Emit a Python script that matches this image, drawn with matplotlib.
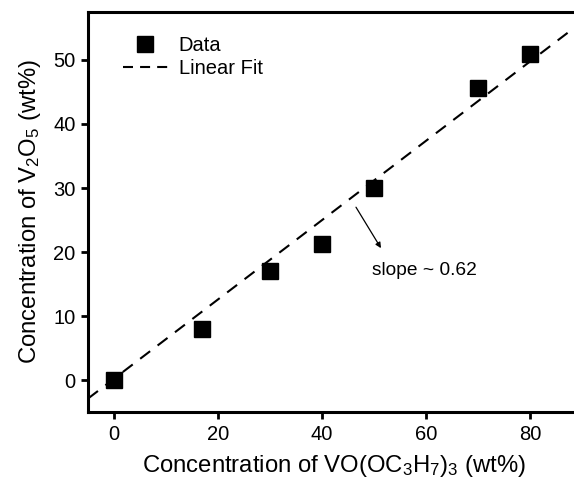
"""Concentration of V2O5 vs. VO(OC3H7)3 with a linear fit."""
import matplotlib
matplotlib.use("Agg")
import matplotlib.pyplot as plt
from matplotlib.lines import Line2D
import numpy as np

# data
precursor_wt = [0, 17, 30, 40, 50, 70, 80]
v2o5_wt = [0.0, 8.0, 17.1, 21.2, 30.0, 45.7, 51.0]
fit_slope = 0.62
fit_intercept = 0.2
x_ticks = [0, 20, 40, 60, 80]
y_ticks = [0, 10, 20, 30, 40, 50]

plt.rcParams["font.family"] = ["Liberation Sans", "DejaVu Sans"]
plt.rcParams["mathtext.fontset"] = "custom"
plt.rcParams["mathtext.rm"] = "Liberation Sans"
plt.rcParams["mathtext.it"] = "Liberation Sans:italic"


def main():
    fig = plt.figure(figsize=(5.74, 4.83), dpi=100)
    ax = fig.add_axes([88 / 574, 71 / 483, 1 - 88 / 574 + 0.01, 400 / 483])

    xlim = (-5, 89.5)
    xf = np.array(xlim)
    ax.plot(xf, fit_slope * xf + fit_intercept, ls=(0, (6, 4.5)), lw=1.5,
            color="black", zorder=2)
    data_h, = ax.plot(precursor_wt, v2o5_wt, ls="none", marker="s", ms=11,
                      color="black", zorder=3)

    ax.annotate("", xy=(51.3, 20.6), xytext=(46.5, 27.0),
                arrowprops=dict(arrowstyle="-|>", lw=0.9, color="black",
                                mutation_scale=8, shrinkA=0, shrinkB=0))
    ax.text(59.6, 17.1, "slope ~ 0.62", fontsize=13.8, ha="center", va="center")

    ax.set_xlim(*xlim)
    ax.set_ylim(-5, 57.5)
    ax.set_xticks(x_ticks)
    ax.set_yticks(y_ticks)
    ax.tick_params(direction="out", length=5, width=2, labelsize=14.5, pad=4)
    for side in ("left", "bottom", "top"):
        ax.spines[side].set_linewidth(2.2)
    ax.spines["right"].set_visible(False)

    ax.set_xlabel(r"Concentration of VO(OC$_\mathregular{3}$H$_\mathregular{7}$)$_\mathregular{3}$ (wt%)",
                  fontsize=17.2, labelpad=7)
    ax.set_ylabel(r"Concentration of V$_\mathregular{2}$O$_\mathregular{5}$ (wt%)",
                  fontsize=17.2, labelpad=7)

    fit_h = Line2D([], [], color="black", lw=1.5, ls=(0, (4.8, 3.4)))
    ax.legend([data_h, fit_h], ["Data", "Linear Fit"], loc="upper left",
              bbox_to_anchor=(0.035, 0.985), frameon=False, fontsize=14.5,
              handlelength=2.2, handletextpad=0.55, labelspacing=0.2)

    fig.savefig("out.png", dpi=100)
    plt.close(fig)


if __name__ == "__main__":
    main()
